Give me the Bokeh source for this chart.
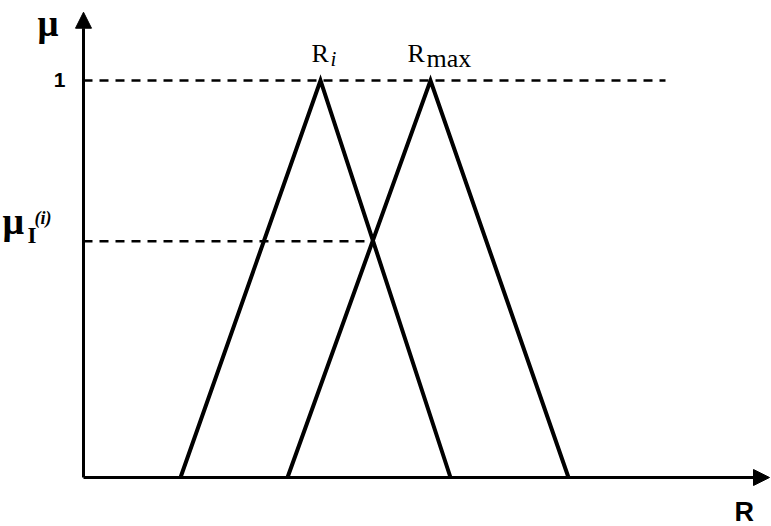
from bokeh.plotting import figure
from bokeh.models import Range1d, Arrow, NormalHead
from bokeh.core.properties import value
from bokeh.embed import file_html
from bokeh.resources import INLINE

# Membership functions (R positions in arbitrary units, mu in [0, 1])
ri_R = [97, 237, 367]          # left foot, peak, right foot of R_i triangle
ri_mu = [0, 1, 0]
rmax_R = [204, 347, 485]       # left foot, peak, right foot of R_max triangle
rmax_mu = [0, 1, 0]
mu_one = 1.0
mu_I = 0.595                   # intersection level mu_I(i)
R_cross = 289                  # R where the two triangles cross
R_axis_end = 686
mu_axis_end = 1.172
dash_one_end = 582

PX_Y = 397.0  # pixels per mu unit (for placing labels)


def yd(py):
    return (477 - py) / PX_Y


def xd(px):
    return px - 83


p = figure(width=771, height=526, output_backend="svg", toolbar_location=None,
           x_range=Range1d(-83, 688), y_range=Range1d(yd(526), yd(0)),
           min_border=0, outline_line_color=None)
p.axis.visible = False
p.grid.visible = False
p.background_fill_color = "white"
p.border_fill_color = "white"

# axes with arrows
p.add_layout(Arrow(x_start=0, y_start=0, x_end=R_axis_end, y_end=0,
                   line_width=3, line_color="black",
                   end=NormalHead(size=16, fill_color="black", line_color="black")))
p.add_layout(Arrow(x_start=0, y_start=0, x_end=0, y_end=mu_axis_end,
                   line_width=3, line_color="black",
                   end=NormalHead(size=16, fill_color="black", line_color="black")))

# dashed guide lines
p.line([0, dash_one_end], [mu_one, mu_one], line_dash="9 7", line_width=2.5, line_color="black")
p.line([0, R_cross], [mu_I, mu_I], line_dash="9 7", line_width=2.5, line_color="black")

# triangles
p.line(ri_R, ri_mu, line_width=4, line_color="black", line_join="miter")
p.line(rmax_R, rmax_mu, line_width=4, line_color="black", line_join="miter")

SERIF = "Liberation Serif"
SANS = "Liberation Sans"


def label(px, py, txt, fs, font=SERIF, style="normal", align="left"):
    p.text(x=[xd(px)], y=[yd(py - 0.4 * fs)], text=[txt], text_font=value(font),
           text_font_size=value(f"{fs}px"), text_font_style=style,
           text_baseline="alphabetic", text_align=align)


# axis labels
label(37, 38, "μ", 37, style="bold")
label(734, 522, "R", 27, font=SANS, style="bold")
label(65, 88, "1", 21, font=SANS, style="bold", align="right")

# mu_I(i)
label(2, 236, "μ", 38, style="bold")
label(27, 244, "I", 23, style="bold")
label(34, 225, "(", 18, style="bold italic")
label(40, 225, "i", 18, style="bold italic")
label(45, 225, ")", 18, style="bold italic")

# peak labels
label(311, 63, "R", 26)
label(330, 67, "i", 21, style="italic")
label(407, 63, "R", 26)
label(426, 68, "max", 26)

open("out.html", "w").write(file_html(p, INLINE))
